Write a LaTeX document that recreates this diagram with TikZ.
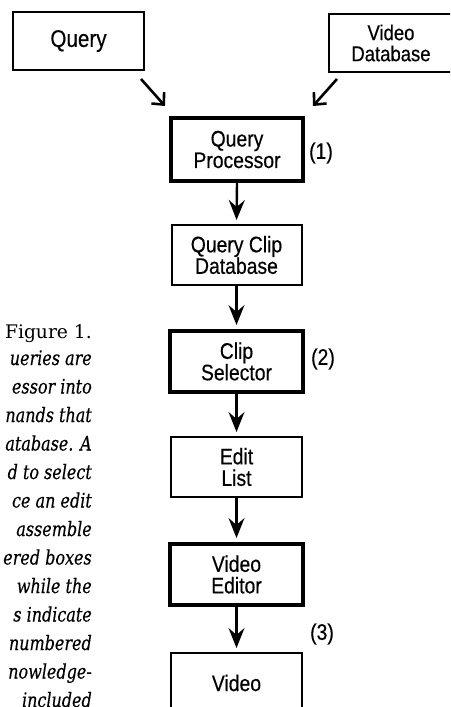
\documentclass[tikz,border=0pt]{standalone}
\usepackage{fontspec}
\usetikzlibrary{arrows.meta}
\newfontfamily\boxfont[FakeStretch=0.86, FakeBold=0.4]{Liberation Sans}
\newfontfamily\capfont{DejaVu Serif}
\newfontfamily\capit[FakeStretch=0.8, FakeBold=0.3]{DejaVu Serif}
\begin{document}
\begin{tikzpicture}[x=1pt,y=-1pt,
  box/.style={draw, line width=2pt, inner sep=0pt, align=center,
    minimum width=131pt, minimum height=60pt,
    font=\boxfont\fontsize{22.5}{21.5}\selectfont},
  thickbox/.style={box, line width=4pt},
  tag/.style={font=\boxfont\fontsize{22.5}{21.5}\selectfont, inner sep=0pt},
  down/.style={line width=2.4pt, -{Stealth[length=20pt, width=16pt, inset=7pt]},
    shorten >=4pt},
  diag/.style={line width=2.6pt, -{Straight Barb[length=9pt, width=17pt, line width=2.6pt]}},
  capline/.style={anchor=base east, inner sep=0pt,
    font=\capit\itshape\fontsize{20}{22}\selectfont},
]
\useasboundingbox (0,0) rectangle (450,707);
\clip (0,0) rectangle (450,707);
\fill[white] (0,0) rectangle (450,707);

% input boxes
\node[box, minimum width=131pt, minimum height=58pt,
  font=\boxfont\fontsize{24}{21.5}\selectfont] (q) at (78.5,41) {Query};
\node[box, minimum width=124pt, minimum height=58pt,
  font=\boxfont\fontsize{21.5}{21}\selectfont] (vdb) at (391,43) {Video\\Database};

% processing chain
\node[thickbox, minimum width=132pt, minimum height=63pt] (qp) at (237,149.5) {Query\\Processor};
\node[box, minimum width=130pt] (qcd) at (236.5,255) {Query Clip\\Database};
\node[thickbox, minimum width=133pt, minimum height=61pt] (cs) at (236.5,361.5) {Clip\\Selector};
\node[box] (el) at (236.5,467) {Edit\\List};
\node[thickbox, minimum width=133pt, minimum height=61pt] (ve) at (236.5,574.5) {Video\\Editor};
\node[box] (vid) at (236.5,683) {Video};

% stage numbers
\node[tag] (n1) at (321,153) {(1)};
\node[tag] (n2) at (323,359) {(2)};
\node[tag] (n3) at (322,634) {(3)};

% connectors
\draw[diag] ([xshift=-4pt,yshift=-8pt]q.south east) -- ([xshift=-4pt,yshift=10pt]qp.north west);
\draw[diag] ([xshift=9pt,yshift=-6pt]vdb.south west) -- ([xshift=8pt,yshift=10pt]qp.north east);
\draw[down] (qp.south) -- (qcd.north);
\draw[down] (qcd.south) -- (cs.north);
\draw[down] (cs.south) -- (el.north);
\draw[down] (el.south) -- (ve.north);
\draw[down] (ve.south) -- (vid.north);

% caption column
\node[capline, font=\capfont\fontsize{18.7}{20}\selectfont] (fig) at (92,338) {Figure 1.};
\node[capline] (c1) at (92,365) {ueries are};
\node[capline] (c2) at (92,393.5) {essor into};
\node[capline] (c3) at (92,422) {nands that};
\node[capline] (c4) at (92,450.5) {atabase. A};
\node[capline] (c5) at (92,479) {d to select};
\node[capline] (c6) at (92,507.5) {ce an edit};
\node[capline] (c7) at (92,536) {assemble};
\node[capline] (c8) at (92,564.5) {ered boxes};
\node[capline] (c9) at (92,593) {while the};
\node[capline] (c10) at (92,621.5) {s indicate};
\node[capline] (c11) at (92,650) {numbered};
\node[capline] (c12) at (92,678.5) {nowledge-};
\node[capline] (c13) at (92,707) {included};
\end{tikzpicture}
\end{document}
